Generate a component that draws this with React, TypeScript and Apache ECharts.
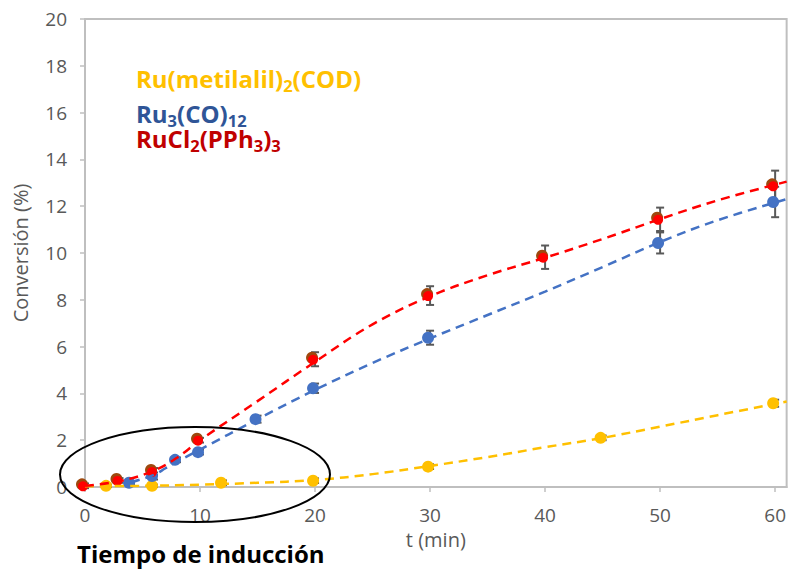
import React, { useEffect, useRef } from "react";
import * as echarts from "echarts";

// Measured points (t in min, conversion in %)
const redT = [0, 3, 6, 10, 20, 30, 40, 50, 60];
const redV = [0.05, 0.28, 0.66, 2.0, 5.46, 8.18, 9.82, 11.44, 12.87];
const redErr = [0.1, 0.1, 0.15, 0.1, 0.3, 0.4, 0.5, 0.5, 0.65];

const blueT = [4, 6, 8, 10, 15, 20, 30, 50, 60];
const blueV = [0.18, 0.47, 1.16, 1.49, 2.9, 4.22, 6.38, 10.43, 12.18];
const blueErr = [0.05, 0.15, 0.1, 0.1, 0.15, 0.2, 0.3, 0.45, 0.65];

const yellowT = [2, 6, 12, 20, 30, 45, 60];
const yellowV = [0.05, 0.05, 0.18, 0.27, 0.87, 2.1, 3.58];
const yellowErr = [0.05, 0.05, 0.1, 0.1, 0.1, 0.1, 0.15];

// Trend lines
const redTrendT = [0, 3, 6, 8, 10, 15, 20, 25, 30, 35, 40, 45, 50, 55, 61];
const redTrendV = [0.05, 0.25, 0.7, 1.25, 2.0, 3.67, 5.35, 6.95, 8.15, 9.05, 9.8, 10.6, 11.45, 12.25, 13.05];

const blueTrendT = [4, 6, 7, 8, 10, 15, 20, 25, 30, 35, 40, 45, 50, 55, 61];
const blueTrendV = [0.2, 0.52, 0.8, 1.08, 1.6, 2.9, 4.15, 5.3, 6.35, 7.35, 8.35, 9.4, 10.47, 11.4, 12.3];

const yellowTrendT = [0, 5, 10, 15, 20, 25, 30, 35, 40, 45, 50, 55, 61];
const yellowTrendV = [0.03, 0.05, 0.1, 0.18, 0.3, 0.55, 0.9, 1.28, 1.7, 2.1, 2.58, 3.07, 3.65];

// Legend labels: [text, isSubscript]
const label1: [string, boolean][] = [["Ru(metilalil)", false], ["2", true], ["(COD)", false]];
const label2: [string, boolean][] = [["Ru", false], ["3", true], ["(CO)", false], ["12", true]];
const label3: [string, boolean][] = [["RuCl", false], ["2", true], ["(PPh", false], ["3", true], [")", false], ["3", true]];

const zip = (a: number[], b: number[]) => a.map((x, i) => [x, b[i]]);
const zipErr = (a: number[], b: number[], e: number[]) =>
  a.map((x, i) => [x, b[i] - e[i], b[i] + e[i]]);

const FONT = "Open Sans";
const MAIN_FS = 24;
const SUB_FS = 16.5;

let measureCtx: CanvasRenderingContext2D | null = null;
const measure = (s: string, fs: number) => {
  if (!measureCtx) {
    const c = document.createElement("canvas");
    measureCtx = c.getContext("2d");
  }
  if (!measureCtx) return s.length * fs * 0.6;
  measureCtx.font = `bold ${fs}px "${FONT}"`;
  return measureCtx.measureText(s).width;
};

const formula = (parts: [string, boolean][], x: number, baseline: number, color: string) => {
  let cx = x;
  const els: any[] = [];
  parts.forEach(([txt, sub]) => {
    const fs = sub ? SUB_FS : MAIN_FS;
    const y = sub ? baseline + 4 - 0.388 * fs : baseline - 0.388 * fs;
    els.push({
      type: "text",
      x: cx,
      y,
      z: 10,
      style: {
        text: txt,
        fontFamily: FONT,
        fontWeight: "bold",
        fontSize: fs,
        fill: color,
        verticalAlign: "middle",
        align: "left",
      },
    });
    cx += measure(txt, fs);
  });
  return els;
};

export default function App() {
  const ref = useRef<HTMLDivElement>(null);
  useEffect(() => {
    document.body.style.margin = "0";
    const chart = echarts.init(ref.current!, null, { renderer: "svg" });

    const errSeries = (data: number[][]) => ({
      type: "custom",
      z: 1,
      renderItem: (params: any, api: any) => {
        const x = api.value(0);
        const lo = api.coord([x, api.value(1)]);
        const hi = api.coord([x, api.value(2)]);
        const w = 4;
        const st = { stroke: "#595959", lineWidth: 2 };
        return {
          type: "group",
          children: [
            { type: "line", shape: { x1: lo[0], y1: lo[1], x2: hi[0], y2: hi[1] }, style: st },
            { type: "line", shape: { x1: lo[0] - w, y1: lo[1], x2: lo[0] + w, y2: lo[1] }, style: st },
            { type: "line", shape: { x1: hi[0] - w, y1: hi[1], x2: hi[0] + w, y2: hi[1] }, style: st },
          ],
        };
      },
      data,
    });

    const trend = (data: number[][], color: string) => ({
      type: "line",
      z: 5,
      data,
      smooth: 0.4,
      showSymbol: false,
      symbol: "none",
      lineStyle: { color, width: 2.5, type: [9, 6] },
    });

    const marks = (data: number[][], color: string, size: number, offset: number[], z: number) => ({
      type: "scatter",
      z,
      data,
      symbol: "circle",
      symbolSize: size,
      symbolOffset: offset,
      itemStyle: { color, opacity: 1 },
    });

    chart.setOption({
      animation: false,
      grid: {
        left: 85,
        top: 19,
        right: 1,
        bottom: 82,
        show: true,
        borderColor: "#BFBFBF",
        borderWidth: 2,
      },
      xAxis: {
        type: "value",
        min: 0,
        max: 61,
        interval: 10,
        name: "t (min)",
        nameLocation: "middle",
        nameGap: 42,
        nameTextStyle: { color: "#595959", fontSize: 20, fontFamily: FONT },
        axisLine: { show: true, lineStyle: { color: "#BFBFBF", width: 2 } },
        axisTick: { show: true, length: 5, lineStyle: { color: "#BFBFBF", width: 1.5 } },
        axisLabel: { color: "#595959", fontSize: 19, fontFamily: FONT, margin: 18, showMaxLabel: false },
        splitLine: { show: false },
      },
      yAxis: {
        type: "value",
        min: 0,
        max: 20,
        interval: 2,
        name: "Conversión (%)",
        nameLocation: "middle",
        nameGap: 55,
        nameTextStyle: { color: "#595959", fontSize: 20, fontFamily: FONT },
        axisLine: { show: true, lineStyle: { color: "#BFBFBF", width: 2 } },
        axisTick: { show: true, length: 5, lineStyle: { color: "#BFBFBF", width: 1.5 } },
        axisLabel: { color: "#595959", fontSize: 19, fontFamily: FONT, margin: 18 },
        splitLine: { show: false },
      },
      series: [
        errSeries(zipErr(yellowT, yellowV, yellowErr)),
        errSeries(zipErr(blueT, blueV, blueErr)),
        errSeries(zipErr(redT, redV, redErr)),
        marks(zip(yellowT, yellowV), "#FFC000", 12, [-2, 0], 2),
        marks(zip(blueT, blueV), "#4472C4", 12, [-2, 0], 2),
        marks(zip(redT, redV), "#9E480E", 12, [-3, -1.5], 3),
        marks(zip(redT, redV), "#FF0000", 10, [-2, 0.5], 4),
        trend(zip(yellowTrendT, yellowTrendV), "#FFC000"),
        trend(zip(blueTrendT, blueTrendV), "#4472C4"),
        trend(zip(redTrendT, redTrendV), "#FF0000"),
      ],
      graphic: [
        ...formula(label1, 136, 87.5, "#FFC000"),
        ...formula(label2, 136, 123, "#2F5597"),
        ...formula(label3, 136, 148, "#C00000"),
        {
          type: "ellipse",
          z: 10,
          shape: { cx: 195, cy: 474.5, rx: 135, ry: 47.5 },
          style: { fill: "none", stroke: "#000000", lineWidth: 2 },
        },
        {
          type: "text",
          x: 77,
          y: 553,
          z: 10,
          style: {
            text: "Tiempo de inducción",
            fontFamily: FONT,
            fontWeight: "bold",
            fontSize: 24,
            fill: "#000000",
            verticalAlign: "middle",
          },
        },
      ],
    });
    return () => chart.dispose();
  }, []);
  return <div ref={ref} style={{ width: 789, height: 569 }} />;
}
